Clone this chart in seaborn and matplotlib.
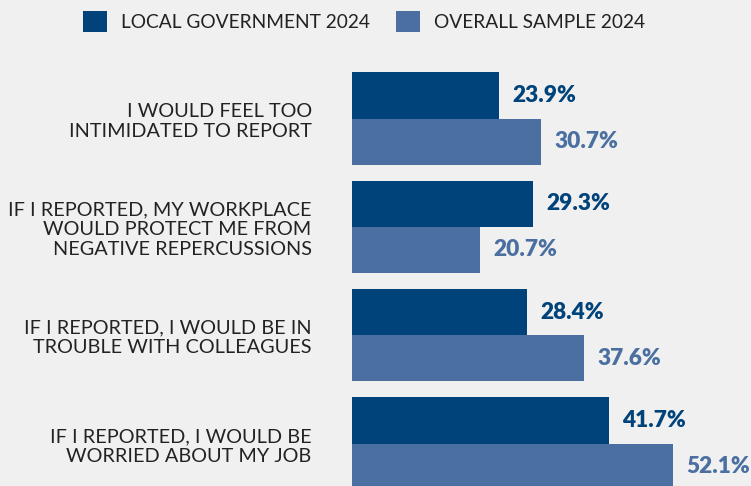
import matplotlib
matplotlib.use("Agg")
import matplotlib.pyplot as plt
from matplotlib.patches import Patch
import seaborn as sns
import pandas as pd

# Survey statements and the share of respondents agreeing, per group
statements = [
    "I WOULD FEEL TOO\nINTIMIDATED TO REPORT",
    "IF I REPORTED, MY WORKPLACE\nWOULD PROTECT ME FROM\nNEGATIVE REPERCUSSIONS",
    "IF I REPORTED, I WOULD BE IN\nTROUBLE WITH COLLEAGUES",
    "IF I REPORTED, I WOULD BE\nWORRIED ABOUT MY JOB",
]
series_names = ["LOCAL GOVERNMENT 2024", "OVERALL SAMPLE 2024"]
local_gov = [23.9, 29.3, 28.4, 41.7]
overall = [30.7, 20.7, 37.6, 52.1]

colors = ["#00437A", "#4A6FA0"]
bg = "#F0F0F0"
text_color = "#222222"

df = pd.DataFrame({
    "statement": statements * 2,
    "series": [series_names[0]] * 4 + [series_names[1]] * 4,
    "value": local_gov + overall,
})

sns.set_theme(style="white")
plt.rcParams["font.family"] = ["Lato", "DejaVu Sans"]

fig = plt.figure(figsize=(7.51, 4.86), dpi=100, facecolor=bg)
ax = fig.add_axes([352 / 751, 0, (751 - 352) / 751, (486 - 60) / 486])
ax.set_facecolor(bg)

sns.barplot(
    data=df, y="statement", x="value", hue="series",
    order=statements, hue_order=series_names,
    palette=colors, orient="h", width=0.85, ax=ax,
    saturation=1, legend=False, linewidth=0,
)

for container, col in zip(ax.containers, colors):
    ax.bar_label(container, labels=[f"{v:.1f}%" for v in container.datavalues],
                 padding=9.5, color=col, fontsize=16.3, fontweight="heavy")

ax.set_xlim(0, (751 - 352) / 6.17)
ax.set_ylim(3.392, -0.540)
ax.set_xlabel("")
ax.set_ylabel("")
ax.set_xticks([])
ax.tick_params(axis="y", length=0, pad=29)
for lbl in ax.get_yticklabels():
    lbl.set_fontsize(14.3)
    lbl.set_color(text_color)
    lbl.set_linespacing(1.2)
    lbl.set_horizontalalignment("right")
    lbl.set_multialignment("right")
for s in ax.spines.values():
    s.set_visible(False)

handles = [Patch(facecolor=c, edgecolor="none") for c in colors]
fig.legend(
    handles, series_names, loc="upper left", bbox_to_anchor=(77 / 751, 1 - 5 / 486),
    ncol=2, frameon=False, fontsize=13.8, labelcolor=text_color,
    handlelength=1.27, handleheight=1.35, handletextpad=0.72,
    columnspacing=1.35, borderaxespad=0, borderpad=0.3,
)

fig.savefig("out.png", dpi=100, facecolor=bg)
